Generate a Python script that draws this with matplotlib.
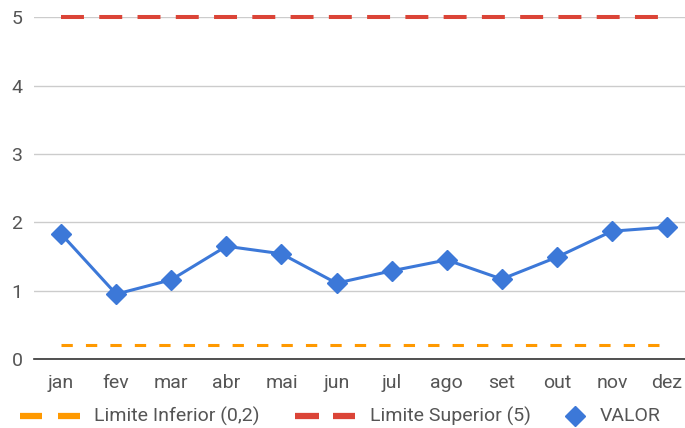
import matplotlib.pyplot as plt
from matplotlib.lines import Line2D

plt.rcParams['font.family'] = ['Roboto', 'DejaVu Sans']

meses = ['jan', 'fev', 'mar', 'abr', 'mai', 'jun', 'jul', 'ago', 'set', 'out', 'nov', 'dez']
valor = [1.83, 0.95, 1.16, 1.65, 1.54, 1.11, 1.29, 1.45, 1.17, 1.49, 1.87, 1.93]
lim_inf = [0.2] * 12
lim_sup = [5] * 12

LARANJA = '#ff9900'
VERMELHO = '#db4437'
AZUL = '#3c78d8'
TEXTO = '#555555'

W, H = 685, 428
fig = plt.figure(figsize=(W / 100, H / 100), dpi=100)
ax = fig.add_axes([0.049, 0.161, 0.965, 0.799])

x = list(range(len(meses)))
ax.plot(x, lim_inf, color=LARANJA, lw=2.2, dashes=(3.7, 4.3), clip_on=False, zorder=3)
ax.plot(x, lim_sup, color=VERMELHO, lw=2.9, dashes=(5.7, 3.8), clip_on=False, zorder=3)
ax.plot(x, valor, color=AZUL, lw=2.2, zorder=4)
ax.plot(x, valor, color=AZUL, lw=0, marker='D', markersize=10, zorder=5, clip_on=False)

ax.set_xlim(-0.5, 11.5)
ax.set_ylim(0, 5)
ax.set_yticks([0, 1, 2, 3, 4, 5])
ax.set_xticks(x)
ax.set_xticklabels(meses)
ax.grid(axis='y', color='#cccccc', lw=1)
ax.set_axisbelow(True)
for s in ['top', 'right', 'left']:
    ax.spines[s].set_visible(False)
ax.spines['bottom'].set_color('#333333')
ax.spines['bottom'].set_linewidth(1.2)
ax.tick_params(length=0, labelsize=14, labelcolor=TEXTO)
ax.tick_params(axis='x', pad=11)
ax.tick_params(axis='y', pad=8)

# legenda manual (coordenadas em pixels da figura)
ly = (H - 416) / H
def px(v):
    return v / W

for a, b in [(20, 42), (58, 80)]:
    fig.add_artist(Line2D([px(a), px(b)], [ly, ly], color=LARANJA, lw=4.5,
                          solid_capstyle='butt', transform=fig.transFigure))
fig.text(px(94), ly, 'Limite Inferior (0,2)', fontsize=14, color=TEXTO, va='center')
for a, b in [(295, 319), (333, 355)]:
    fig.add_artist(Line2D([px(a), px(b)], [ly, ly], color=VERMELHO, lw=4.5,
                          solid_capstyle='butt', transform=fig.transFigure))
fig.text(px(370), ly, 'Limite Superior (5)', fontsize=14, color=TEXTO, va='center')
fig.add_artist(Line2D([px(575)], [ly], color=AZUL, lw=0, marker='D', markersize=10,
                      transform=fig.transFigure))
fig.text(px(600), ly, 'VALOR', fontsize=14, color=TEXTO, va='center')

fig.savefig('out.png', dpi=100)
